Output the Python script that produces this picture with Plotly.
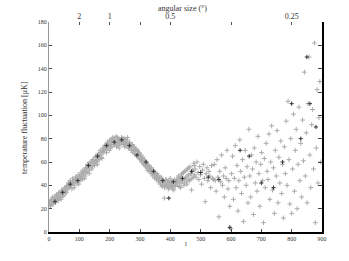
import plotly.graph_objects as go

# multipole l (bottom axis) ticks
x_ticks = [0, 100, 200, 300, 400, 500, 600, 700, 800, 900]
y_ticks = [0, 20, 40, 60, 80, 100, 120, 140, 160, 180]
# top axis: angular size (degrees) at multipole positions
top_tick_l = [100, 200, 300, 400, 600, 800]
top_tick_text = ["2", "1", "", "0.5", "", "0.25"]

# temperature fluctuation values (muK), one per multipole l = 2, 5, 8, ...
T_vals = [
    25, 22, 28, 26, 24, 29, 27, 31, 28, 30, 33, 29, 32, 35, 31, 34, 37, 33, 36, 39,
    37, 41, 39, 43, 40, 44, 42, 38, 45, 43, 47, 44, 41, 48, 46, 49, 45, 50, 52, 48,
    54, 51, 56, 58, 53, 57, 60, 56, 62, 59, 61, 64, 60, 66, 63, 65, 68, 64, 69, 71,
    70, 73, 75, 71, 76, 74, 78, 72, 77, 80, 75, 79, 76, 82, 78, 74, 80, 77, 79, 81,
    78, 75, 80, 77, 74, 79, 76, 72, 77, 74, 71, 75, 70, 73, 69, 71, 66, 70, 67, 63,
    65, 61, 63, 59, 62, 57, 60, 55, 58, 54, 56, 52, 55, 50, 53, 49, 51, 47, 50, 46,
    48, 44, 42, 46, 40, 43, 29, 41, 45, 39, 42, 44, 38, 41, 43, 37, 40, 44, 39, 42,
    45, 40, 47, 43, 38, 49, 44, 51, 42, 46, 53, 41, 48, 55, 44, 50, 36, 52, 47, 57,
    54, 47, 60, 51, 45, 56, 49, 41, 53, 58, 46, 26, 50, 55, 44, 52, 48, 38, 57, 46,
    45, 58, 44, 35, 62, 47, 13, 52, 43, 66, 40, 48, 30, 55, 46, 70, 37, 44, 22, 3,
    50, 65, 28, 46, 74, 38, 57, 18, 44, 79, 52, 33, 62, 9, 47, 70, 40, 56, 25, 88,
    48, 30, 66, 54, 15, 72, 42, 60, 35, 82, 50, 22, 58, 68, 44, 8, 63, 38, 76, 52,
    45, 84, 28, 60, 91, 36, 55, 16, 70, 48, 87, 25, 64, 42, 78, 33, 58, 12, 73, 50,
    95, 40, 112, 62, 24, 80, 16, 54, 101, 35, 70, 88, 20, 58, 107, 44, 76, 30, 96, 61,
    137, 48, 85, 25, 110, 150, 66, 38, 92, 105, 54, 162, 8, 72, 122, 42, 98, 129, 60,
]
l_vals = [2 + 3 * i for i in range(len(T_vals))]

# second (interleaved) set of readings, l = 3.5, 6.5, ...
T_vals_b = [
    23, 27, 24, 30, 26, 28, 25, 32, 29, 27, 34, 30, 28, 36, 33, 31, 38, 35, 34, 40,
    42, 38, 44, 41, 37, 46, 43, 40, 47, 45, 42, 49, 46, 44, 51, 47, 53, 49, 46, 55,
    52, 58, 55, 50, 60, 57, 54, 62, 59, 57, 65, 61, 58, 67, 62, 70, 66, 63, 72, 68,
    74, 71, 68, 77, 73, 70, 79, 75, 73, 81, 77, 75, 78, 73, 81, 76, 72, 79, 75, 78,
    80, 76, 73, 78, 75, 81, 72, 76, 73, 70, 74, 68, 72, 67, 71, 65, 69, 64, 68, 62,
    66, 60, 64, 58, 61, 56, 59, 53, 57, 52, 54, 50, 53, 48, 51, 46, 49, 45, 48, 43,
    45, 41, 47, 39, 44, 42, 38, 45, 40, 43, 37, 41, 46, 39, 43, 40, 36, 45, 41, 44,
    43, 48, 39, 46, 42, 50, 45, 40, 52, 47, 43, 54, 49, 45, 56, 50, 46, 53, 59, 49,
]
l_vals_b = [3.5 + 3 * i for i in range(len(T_vals_b))]

# darker subset of points
l_dark = [20, 45, 70, 95, 130, 160, 190, 215, 240, 265, 290, 320, 345, 375, 395,
          410, 440, 470, 500, 525, 560, 596, 630, 660, 700, 740, 770, 800, 830, 850, 860, 880]
T_dark = [26, 34, 41, 44, 57, 65, 74, 77, 79, 74, 66, 60, 52, 44, 29,
          43, 46, 52, 51, 47, 45, 4, 70, 65, 42, 38, 60, 110, 80, 150, 110, 90]

serif = "Liberation Serif"
ink = "#333333"

fig = go.Figure()
fig.add_trace(go.Scatter(
    x=l_vals + l_vals_b, y=T_vals + T_vals_b, mode="markers",
    marker=dict(symbol="cross-thin", size=3.5, line=dict(width=1, color="#ababab")),
    showlegend=False, hoverinfo="skip"))
fig.add_trace(go.Scatter(
    x=l_dark, y=T_dark, mode="markers",
    marker=dict(symbol="cross-thin", size=3, line=dict(width=1, color="#333333")),
    showlegend=False, hoverinfo="skip"))
# invisible trace to activate top/right axes
fig.add_trace(go.Scatter(x=[0], y=[0], xaxis="x2", yaxis="y2", mode="markers",
                         marker=dict(opacity=0), showlegend=False, hoverinfo="skip"))

fig.update_layout(
    width=349, height=261,
    margin=dict(l=49, r=27, t=22, b=29, autoexpand=False),
    paper_bgcolor="white", plot_bgcolor="white",
    font=dict(family=serif, color=ink, size=6),
    xaxis=dict(range=[0, 900], tickvals=x_ticks, ticks="inside", ticklen=3,
               showline=True, linecolor="black", linewidth=1.5, showgrid=False,
               zeroline=False, tickfont=dict(size=6, color=ink), automargin=False),
    yaxis=dict(range=[0, 180], tickvals=y_ticks, ticks="inside", ticklen=3,
               showline=True, linecolor="#999999", linewidth=1, showgrid=False,
               zeroline=False, tickfont=dict(size=6, color=ink), automargin=False),
    xaxis2=dict(range=[0, 900], overlaying="x", side="top", tickvals=top_tick_l,
                ticktext=top_tick_text, ticks="inside", ticklen=3, showline=False,
                showgrid=False, zeroline=False, tickfont=dict(size=8, color=ink),
                color=ink, tickcolor="#555555", automargin=False),
    yaxis2=dict(range=[0, 180], overlaying="y", side="right", tickvals=y_ticks,
                showticklabels=False, ticks="inside", ticklen=4, showline=True,
                linecolor="black", linewidth=2, showgrid=False, zeroline=False,
                automargin=False),
    annotations=[
        dict(text="angular size (°)", xref="paper", yref="paper", x=0.49, y=1.062,
             showarrow=False, font=dict(size=8, family=serif, color=ink),
             xanchor="center", yanchor="middle"),
        dict(text="l", xref="paper", yref="paper", x=0.5, y=-0.057,
             showarrow=False, font=dict(size=7, family=serif, color=ink),
             xanchor="center", yanchor="middle"),
        dict(text="temperature fluctuation [μK]", xref="paper", yref="paper", x=-0.092, y=0.5,
             showarrow=False, textangle=-90, font=dict(size=8, family=serif, color=ink),
             xanchor="center", yanchor="middle"),
    ],
)

# remove the browser's default body margin so the figure sits at the page corner
fig.write_html("out.html", config={"displayModeBar": False},
               post_script="document.body.style.margin='0';")
